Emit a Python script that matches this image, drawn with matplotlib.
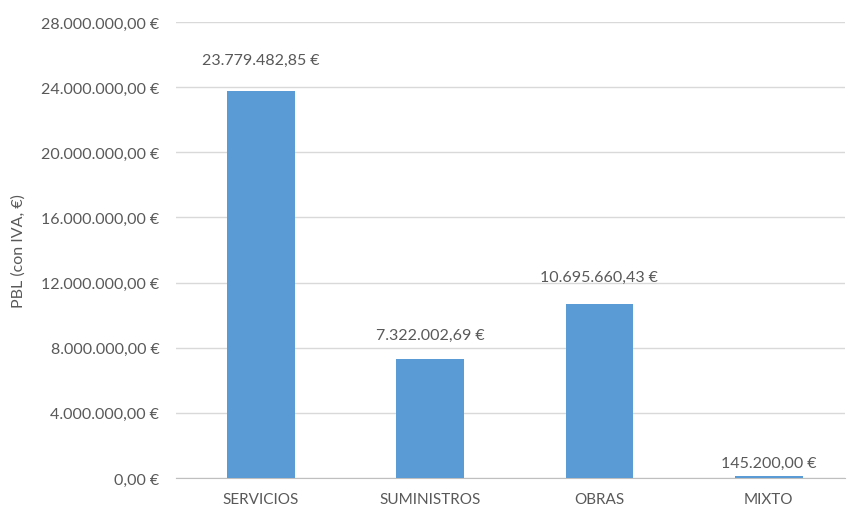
import matplotlib.pyplot as plt
from matplotlib.ticker import FuncFormatter

categories = ['SERVICIOS', 'SUMINISTROS', 'OBRAS', 'MIXTO']
pbl_values = [23779482.85, 7322002.69, 10695660.43, 145200.00]
label_offsets = [17, 12, 14, 4]  # points above bar top

plt.rcParams['font.family'] = ['Lato', 'DejaVu Sans']
text_color = '#595959'


def euro(v, pos=None):
    s = f'{v:,.2f}'.replace(',', 'X').replace('.', ',').replace('X', '.')
    return s + '\u202f€'


fig = plt.figure(figsize=(8.47, 5.10), dpi=100)
ax = fig.add_axes([176 / 847, 1 - 479 / 510, (845 - 176) / 847, (479 - 23) / 510])

x = range(len(categories))
bars = ax.bar(x, pbl_values, width=0.4, color='#5b9bd5', zorder=3)

for b, v, off in zip(bars, pbl_values, label_offsets):
    ax.annotate(euro(v), (b.get_x() + b.get_width() / 2, b.get_height()),
                xytext=(0, off), textcoords='offset points',
                ha='center', va='bottom', fontsize=11.5, color=text_color)

ax.set_xlim(-0.5, 3.45)
ax.set_ylim(0, 28000000)
ax.set_yticks(range(0, 28000001, 4000000))
ax.yaxis.set_major_formatter(FuncFormatter(euro))
ax.set_xticks(list(x))
ax.set_xticklabels(categories)
ax.grid(axis='y', color='#d9d9d9', linewidth=1, zorder=0)
for s in ['top', 'right', 'left']:
    ax.spines[s].set_visible(False)
ax.spines['bottom'].set_color('#bfbfbf')
ax.tick_params(axis='both', length=0, labelsize=11.5, colors=text_color, pad=10)
ax.tick_params(axis='x', labelsize=11)
ax.tick_params(axis='y', pad=12)

fig.text(19 / 847, 1 - 251 / 510, 'PBL (con IVA, €)', rotation=90,
         ha='center', va='center', fontsize=11.5, color=text_color)

fig.savefig('out.png', dpi=100)
